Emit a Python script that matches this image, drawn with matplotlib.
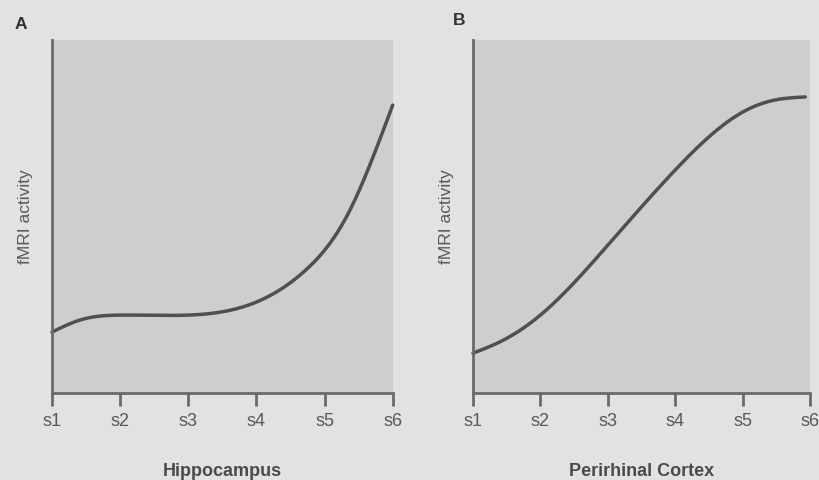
import numpy as np
import matplotlib
matplotlib.use("Agg")
import matplotlib.pyplot as plt

plt.rcParams['font.family'] = ['Liberation Sans', 'DejaVu Sans']

# Data (x in stage units, y normalized activity)
tick_labels = ["s1", "s2", "s3", "s4", "s5", "s6"]
hippo_x = [1.0, 1.41, 2.0, 3.0, 4.0, 4.72, 5.32, 6.0]
hippo_y = [0.173, 0.207, 0.221, 0.221, 0.258, 0.348, 0.499, 0.816]
peri_x = [1.0, 1.45, 2.0, 3.0, 4.0, 5.0, 5.47, 5.93]
peri_y = [0.113, 0.150, 0.221, 0.419, 0.632, 0.796, 0.830, 0.839]
panel_titles = ["Hippocampus", "Perirhinal Cortex"]
panel_letters = ["A", "B"]
letter_pos = [(-0.11, 1.045), (-0.06, 1.055)]
ylabel = "fMRI activity"


def natural_spline(x, y, n=400):
    x = np.asarray(x, float); y = np.asarray(y, float)
    N = len(x); h = np.diff(x)
    A = np.zeros((N, N)); r = np.zeros(N)
    A[0, 0] = 1; A[-1, -1] = 1
    for i in range(1, N - 1):
        A[i, i - 1] = h[i - 1]; A[i, i] = 2 * (h[i - 1] + h[i]); A[i, i + 1] = h[i]
        r[i] = 6 * ((y[i + 1] - y[i]) / h[i] - (y[i] - y[i - 1]) / h[i - 1])
    M = np.linalg.solve(A, r)
    xs = np.linspace(x[0], x[-1], n)
    idx = np.clip(np.searchsorted(x, xs) - 1, 0, N - 2)
    hi = h[idx]; a = x[idx + 1] - xs; b = xs - x[idx]
    ys = (M[idx] * a**3 + M[idx + 1] * b**3) / (6 * hi) \
        + (y[idx] / hi - M[idx] * hi / 6) * a + (y[idx + 1] / hi - M[idx + 1] * hi / 6) * b
    return xs, ys


bg = "#e2e2e2"
area = "#cecece"
line_c = "#505050"
axis_c = "#6a6a6a"
text_c = "#595959"

fig = plt.figure(figsize=(8.19, 4.8), dpi=100, facecolor=bg)
axes = [fig.add_axes([0.0635, 0.181, 0.416, 0.7354]),
        fig.add_axes([0.5775, 0.181, 0.4115, 0.7354])]

data = [(hippo_x, hippo_y), (peri_x, peri_y)]
for ax, (xv, yv), title, letter, lp in zip(axes, data, panel_titles, panel_letters, letter_pos):
    ax.set_facecolor(area)
    xs, ys = natural_spline(xv, yv)
    ax.plot(xs, ys, color=line_c, lw=2.5, solid_capstyle='round', clip_on=False)
    ax.set_xlim(1, 6)
    ax.set_ylim(0, 1)
    for s in ["top", "right"]:
        ax.spines[s].set_visible(False)
    for s in ["left", "bottom"]:
        ax.spines[s].set_color(axis_c)
        ax.spines[s].set_linewidth(2.0)
    ax.set_xticks(range(1, 7))
    ax.set_xticklabels(tick_labels, fontsize=13, color=text_c)
    ax.tick_params(axis='x', length=9, width=2.0, color=axis_c, pad=5, direction='out')
    ax.set_yticks([])
    ax.set_ylabel(ylabel, fontsize=12.5, color=text_c, labelpad=14)
    ax.set_xlabel(title, fontsize=13, fontweight='bold', color="#4a4a4a", labelpad=24)
    ax.text(lp[0], lp[1], letter, transform=ax.transAxes, fontsize=12.5,
            fontweight='bold', color="#333333", ha='left', va='center')

fig.savefig("out.png", dpi=100, facecolor=bg)
